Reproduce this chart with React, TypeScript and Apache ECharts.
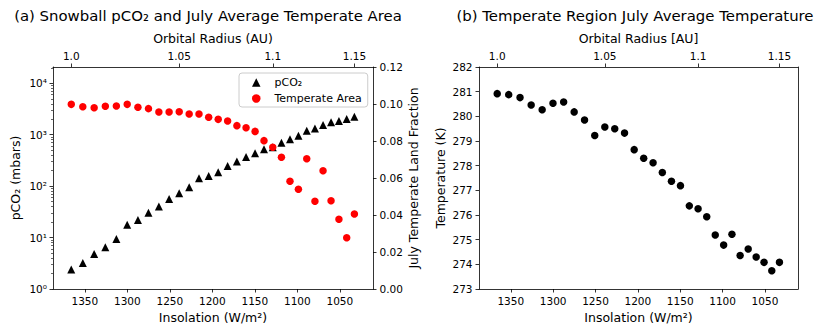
import React, { useEffect, useRef } from 'react';
import * as echarts from 'echarts';

const S0 = 1366;
const insolation = [1366.0, 1352.44, 1339.08, 1325.93, 1312.96, 1300.18, 1287.59, 1275.18, 1262.94, 1250.89, 1239.0, 1227.29, 1215.74, 1204.35, 1193.12, 1182.05, 1171.13, 1160.36, 1149.73, 1139.26, 1128.93, 1118.73, 1108.68, 1098.76, 1088.97, 1079.31, 1069.78, 1060.37, 1051.09, 1041.94, 1032.89];
const pco2 = [2.4, 3.2, 4.8, 6.5, 9.4, 17.8, 22, 30.5, 40, 56, 73, 95, 142, 158, 186, 246, 300, 370, 435, 522, 570, 700, 815, 955, 1200, 1320, 1540, 1740, 1850, 2030, 2240];
const temperateArea = [0.0998, 0.0985, 0.098, 0.0988, 0.0989, 0.0998, 0.0982, 0.0975, 0.0957, 0.0957, 0.0958, 0.0946, 0.0946, 0.0928, 0.0917, 0.0908, 0.0883, 0.0872, 0.0852, 0.0802, 0.0766, 0.0712, 0.0582, 0.0539, 0.0704, 0.0474, 0.0639, 0.0477, 0.0377, 0.0277, 0.0405];
const temperature = [280.92, 280.88, 280.76, 280.46, 280.27, 280.53, 280.58, 280.18, 279.85, 279.22, 279.57, 279.5, 279.32, 278.65, 278.3, 278.12, 277.72, 277.37, 277.19, 276.37, 276.25, 275.93, 275.19, 274.78, 275.22, 274.36, 274.62, 274.3, 274.08, 273.74, 274.08];

const insolationTicks = [1350, 1300, 1250, 1200, 1150, 1100, 1050];
const radiusTicks = [1.0, 1.05, 1.1, 1.15];
const radiusTickLabels = ['1.0', '1.05', '1.1', '1.15'];
const logDecades = [0, 1, 2, 3, 4];
const supDigits = ['⁰', '¹', '²', '³', '⁴'];
const LOG_MAX = 4.317;
const X_MIN = 1011;
const X_MAX = 1387.5;

const FONT = 'DejaVu Sans';
const TICK_FS = 10.5;
const NAME_FS = 12.5;

const radiusPositions = radiusTicks.map((r) => S0 / (r * r));
const minorLog: number[] = [];
logDecades.forEach((d) => {
  for (let k = 2; k <= 9; k++) {
    const v = Math.log10(k) + d;
    if (v <= LOG_MAX) minorLog.push(v);
  }
});

const lineStyle = { color: '#000', width: 0.8 };
const labelBase = { fontFamily: FONT, fontSize: TICK_FS, color: '#000' };
const nameBase = { fontFamily: FONT, fontSize: NAME_FS, color: '#000' };

function radiusLabel(v: number): string {
  let best = 0;
  let bd = Infinity;
  radiusPositions.forEach((p, i) => {
    const d = Math.abs(p - v);
    if (d < bd) {
      bd = d;
      best = i;
    }
  });
  return radiusTickLabels[best];
}

function bottomX(gridIndex: number) {
  return {
    type: 'value',
    gridIndex,
    position: 'bottom',
    min: X_MIN,
    max: X_MAX,
    inverse: true,
    name: 'Insolation (W/m²)',
    nameLocation: 'middle',
    nameGap: 22,
    nameTextStyle: nameBase,
    splitLine: { show: false },
    axisLine: { show: true, onZero: false, lineStyle },
    axisTick: { show: true, length: 3.5, lineStyle, customValues: insolationTicks },
    axisLabel: { ...labelBase, margin: 6.5, customValues: insolationTicks, formatter: (v: number) => String(Math.round(v)) },
  };
}

function topX(gridIndex: number, name: string) {
  return {
    type: 'value',
    gridIndex,
    position: 'top',
    min: X_MIN,
    max: X_MAX,
    inverse: true,
    name,
    nameLocation: 'middle',
    nameGap: 19,
    nameTextStyle: nameBase,
    splitLine: { show: false },
    axisLine: { show: true, onZero: false, lineStyle },
    axisTick: { show: true, length: 3.5, lineStyle, customValues: radiusPositions },
    axisLabel: { ...labelBase, margin: 6, customValues: radiusPositions, formatter: radiusLabel },
  };
}

export default function App() {
  const ref = useRef<HTMLDivElement>(null);
  useEffect(() => {
    if (!ref.current) return;
    const chart = echarts.init(ref.current, undefined, { renderer: 'svg' });
    const option: any = {
      animation: false,
      backgroundColor: '#fff',
      textStyle: { fontFamily: FONT },
      grid: [
        { left: 53, top: 67, width: 320, height: 222, containLabel: false, outerBoundsMode: 'none' },
        { left: 479, top: 67, width: 319, height: 222, containLabel: false, outerBoundsMode: 'none' },
      ],
      graphic: [
        {
          type: 'text',
          x: 208,
          y: 16,
          style: { text: '(a) Snowball pCO₂ and July Average Temperate Area', fontFamily: FONT, fontSize: 14.9, fill: '#000', align: 'center', verticalAlign: 'middle' },
        },
        {
          type: 'text',
          x: 635,
          y: 16,
          style: { text: '(b) Temperate Region July Average Temperature', fontFamily: FONT, fontSize: 14.9, fill: '#000', align: 'center', verticalAlign: 'middle' },
        },
      ],
      legend: {
        orient: 'vertical',
        left: 239,
        top: 73,
        padding: [4, 6, 3, 13],
        itemGap: 5,
        itemWidth: 8.5,
        itemHeight: 8.5,
        borderColor: '#ccc',
        borderWidth: 1,
        borderRadius: 3,
        backgroundColor: 'rgba(255,255,255,0.8)',
        textStyle: { fontFamily: FONT, fontSize: 11, color: '#000', padding: [0, 0, 0, 9] },
        data: [
          { name: 'pCO₂', icon: 'triangle' },
          { name: 'Temperate Area', icon: 'circle' },
        ],
      },
      xAxis: [bottomX(0), topX(0, 'Orbital Radius (AU)'), bottomX(1), topX(1, 'Orbital Radius [AU]')],
      yAxis: [
        {
          type: 'log',
          logBase: 10,
          gridIndex: 0,
          position: 'left',
          min: 1,
          max: Math.pow(10, LOG_MAX),
          splitLine: { show: false },
          axisLine: { show: true, onZero: false, lineStyle },
          axisTick: { show: false },
          axisLabel: { show: false },
        },
        {
          type: 'value',
          gridIndex: 0,
          position: 'right',
          min: 0,
          max: 0.12,
          interval: 0.02,
          name: 'July Temperate Land Fraction',
          nameLocation: 'middle',
          nameGap: 32,
          nameTextStyle: nameBase,
          splitLine: { show: false },
          axisLine: { show: true, onZero: false, lineStyle },
          axisTick: { show: true, length: 3.5, lineStyle },
          axisLabel: { ...labelBase, margin: 6.5, formatter: (v: number) => v.toFixed(2) },
        },
        {
          type: 'value',
          gridIndex: 0,
          position: 'left',
          min: 0,
          max: LOG_MAX,
          name: 'pCO₂ (mbars)',
          nameLocation: 'middle',
          nameGap: 31,
          nameTextStyle: nameBase,
          splitLine: { show: false },
          axisLine: { show: false, onZero: false },
          axisTick: { show: true, length: 3.5, lineStyle, customValues: logDecades },
          axisLabel: { ...labelBase, margin: 6, customValues: logDecades, formatter: (v: number) => '10' + supDigits[Math.round(v)] },
        },
        {
          type: 'value',
          gridIndex: 0,
          position: 'left',
          min: 0,
          max: LOG_MAX,
          splitLine: { show: false },
          axisLine: { show: false, onZero: false },
          axisTick: { show: true, length: 2, lineStyle: { color: '#000', width: 0.6 }, customValues: minorLog },
          axisLabel: { show: false },
        },
        {
          type: 'value',
          gridIndex: 1,
          position: 'left',
          min: 273,
          max: 282,
          interval: 1,
          name: 'Temperature (K)',
          nameLocation: 'middle',
          nameGap: 32,
          nameTextStyle: nameBase,
          splitLine: { show: false },
          axisLine: { show: true, onZero: false, lineStyle },
          axisTick: { show: true, length: 3.5, lineStyle },
          axisLabel: { ...labelBase, margin: 6.5 },
        },
        {
          type: 'value',
          gridIndex: 1,
          position: 'right',
          min: 273,
          max: 282,
          splitLine: { show: false },
          axisLine: { show: true, onZero: false, lineStyle },
          axisTick: { show: false },
          axisLabel: { show: false },
        },
      ],
      series: [
        {
          name: 'pCO₂',
          type: 'scatter',
          xAxisIndex: 0,
          yAxisIndex: 0,
          symbol: 'triangle',
          symbolSize: 8,
          itemStyle: { color: '#000', opacity: 1 },
          data: insolation.map((s, i) => [s, pco2[i]]),
        },
        {
          name: 'Temperate Area',
          type: 'scatter',
          xAxisIndex: 0,
          yAxisIndex: 1,
          symbol: 'circle',
          symbolSize: 7.5,
          itemStyle: { color: '#ff0000', opacity: 1 },
          data: insolation.map((s, i) => [s, temperateArea[i]]),
        },
        {
          name: 'Temperature',
          type: 'scatter',
          xAxisIndex: 2,
          yAxisIndex: 4,
          symbol: 'circle',
          symbolSize: 7.5,
          itemStyle: { color: '#000', opacity: 1 },
          data: insolation.map((s, i) => [s, temperature[i]]),
        },
      ],
    };
    chart.setOption(option);
    return () => chart.dispose();
  }, []);
  return <div ref={ref} style={{ position: 'fixed', left: 0, top: 0, width: 831, height: 334, background: '#fff' }} />;
}
